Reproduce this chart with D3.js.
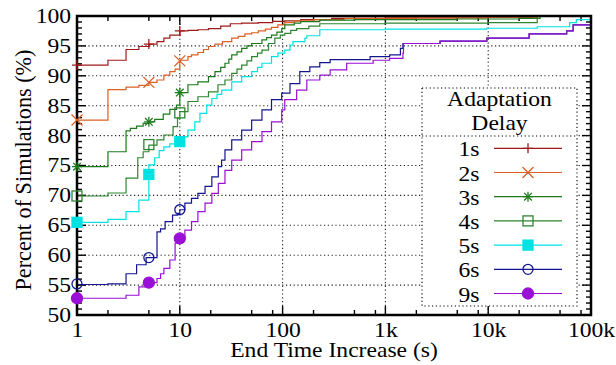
<!DOCTYPE html>
<html>
<head>
<meta charset="utf-8">
<script src="https://cdn.jsdelivr.net/npm/d3@7"></script>
<style>
body { margin: 0; background: #fff; }
text { font-family: "Liberation Serif", "Times New Roman", serif; font-size: 20px; fill: #000; }
</style>
</head>
<body>
<svg id="chart" width="616" height="365"></svg>
<script>
//******************CDF of end time increase per adaptation delay******************

//legend labels, colours and point types
var delays = ["1s", "2s", "3s", "4s", "5s", "6s", "9s"];
var colors = ["#9e1a1a", "#dc5f24", "#1b7a1b", "#2e8530", "#00e2e2", "#151590", "#9a0fd6"];
var symbols = ["plus", "cross", "star", "box", "boxf", "circ", "circf"];

//tick values
var xTicks = [1, 10, 100, 1000, 10000, 100000];
var xTickLabels = ["1", "10", "100", "1k", "10k", "100k"];
var yTicks = [50, 55, 60, 65, 70, 75, 80, 85, 90, 95, 100];

//[end time increase (s), percent of simulations]
var d1s = [[1,91.8],[2,92.6],[3,94.4],[4,94.9],[5,95.3],[6,95.7],[7,96.3],[8,96.8],[10,97.5],[12,97.6],[15,97.7],[19,97.9],
    [25,98.3],[31,98.7],[40,98.8],[58,98.9],[80,99.1],[105,99.2],[150,99.4],[300,99.6],[1000,99.7],[5000,99.8],[27000,100]];
var d2s = [[1,82.6],[2,87.7],[3,88.1],[4,88.4],[5,88.9],[6,89.3],[7,90.1],[8,90.7],[9,91.1],[10,92.6],[12,93.2],[13,93.5],
    [15,93.9],[17,94.4],[19,94.9],[22,95.3],[26,95.7],[32,96.3],[37,96.6],[43,97.0],[50,97.2],[58,97.5],[68,97.8],[78,98.1],
    [90,98.5],[105,98.9],[130,99.2],[200,99.4],[400,99.6],[2000,99.7],[10000,99.8],[30000,100]];
var d3s = [[1,74.8],[2,77.3],[3,80.8],[3.3,81.2],[3.8,81.6],[4.4,82.05],[5,82.3],[5.7,82.7],[6.9,83.6],[8,84.4],[9.3,85.1],
    [10,87.2],[12,88.5],[15,89.0],[19,89.85],[22,90.7],[25,91.4],[27.5,92.1],[30,92.8],[32,93.5],[36,94.0],[40,94.6],[45,95.0],
    [50,95.4],[63,96.0],[70,96.4],[78,96.8],[88,97.3],[98,97.9],[105,98.5],[130,98.8],[150,99.05],[230,99.3],[500,99.4],
    [5000,99.5],[20000,99.6],[32000,100]];
var d4s = [[1,69.9],[2,70.4],[3,72.9],[3.9,76.3],[4.4,77.3],[5,78.4],[6,79.3],[7,80.1],[8.6,81.5],[9.5,82.9],[10,84.0],
    [12,85.7],[15,86.5],[19,87.3],[23.5,88.5],[27.5,89.3],[32,90.4],[36,91.1],[40,91.8],[45,92.5],[50,93.2],[57,93.8],
    [63,94.3],[73,95.4],[84,96.3],[95,96.8],[105,97.1],[120,97.6],[137,97.9],[180,98.3],[230,98.7],[1000,98.8],[10000,98.9],
    [30000,100]];
var d5s = [[1,65.5],[2,66.0],[3,67.3],[4,69.2],[5,75.1],[5.7,76.3],[6.3,77.5],[7,78.1],[8,78.6],[9,79.0],[10,79.8],[12,80.9],
    [14,82.3],[15.7,83.7],[18.3,85.1],[20.5,86.2],[23,86.9],[25.6,87.6],[32,89.0],[40,89.85],[50,90.7],[57,91.4],[63,92.1],
    [78,93.2],[90,93.8],[105,94.3],[118,95.15],[126,95.7],[165,96.3],[172,96.7],[230,97.7],[1000,97.8],[9700,97.95],
    [30000,98.2],[62000,98.9],[72000,99.4],[100000,99.5]];
var d6s = [[1,55.1],[2,55.2],[3,56.9],[3.8,58.4],[4.7,59.6],[6,63.9],[6.5,64.4],[7.2,65.6],[8.5,66.7],[9.5,67.0],[10,67.6],
    [11.2,68.7],[13,69.5],[15,70.35],[17.6,71.5],[20.5,73.1],[23.7,74.8],[25.5,75.9],[27.5,77.6],[32,79.3],[40,80.9],
    [50,82.6],[63,84.3],[78,86.0],[98,87.1],[118,88.7],[147,90.7],[184,91.5],[230,92.2],[290,92.7],[710,93.2],[1100,93.5],
    [1400,94.6],[1480,95.4],[3400,95.8],[9700,96.3],[25000,97.0],[58000,97.5],[67000,98.5],[100000,98.9]];
var d9s = [[1,52.8],[3,53.3],[4,54.7],[5,55.4],[6,56.1],[6.5,56.9],[7,57.8],[8,59.2],[9,62.0],[10,62.8],[11.2,64.2],[13,65.6],
    [15,67.3],[17.6,68.7],[20.5,70.35],[23.7,72.0],[27.5,74.2],[32,75.9],[40,77.6],[50,79.0],[63,80.65],[78,82.3],[98,84.3],
    [105,86.0],[137,87.6],[172,89.3],[230,90.1],[290,91.0],[420,92.1],[760,92.6],[1100,92.9],[1480,93.8],[1500,95.4],
    [3400,95.8],[9700,96.3],[25000,97.0],[58000,97.5],[67000,98.5],[100000,98.9]];

//points where gnuplot put the symbols
var m1s = [[1,91.8],[5,95.3],[10,97.5]];
var m2s = [[1,82.6],[5,88.9],[10,92.5]];
var m3s = [[1,74.8],[5,82.3],[10,87.2]];
var m4s = [[1,69.9],[5,78.5],[10,83.8]];
var m5s = [[1,65.5],[5,73.5],[10,79.0]];
var m6s = [[1,55.2],[5,59.6],[10,67.6]];
var m9s = [[1,52.8],[5,55.4],[10,62.8]];

var lines = [d1s, d2s, d3s, d4s, d5s, d6s, d9s];
var marks = [m1s, m2s, m3s, m4s, m5s, m6s, m9s];

//picture is a bit wider than the original, stretch text the same way
var sx = 1.18;

var svg = d3.select("#chart");
var pLeft = 77, pRight = 591, pTop = 16, pBottom = 315;

var x = d3.scaleLog().domain([1, 100000]).range([pLeft, pRight]);
var y = d3.scaleLinear().domain([50, 100]).range([pBottom, pTop]);

svg.append("defs").append("clipPath")
    .attr("id", "plotclip")
    .append("rect")
    .attr("x", pLeft).attr("y", pTop - 1)
    .attr("width", pRight - pLeft).attr("height", pBottom - pTop + 1);

//dotted grid
var grid = svg.append("g").attr("stroke", "#222").attr("stroke-width", 1.1).attr("stroke-dasharray", "1.2,2.6");
grid.selectAll(".gx")
    .data(xTicks.slice(1, -1))
    .enter().append("line")
    .attr("x1", function(d) { return x(d); }).attr("x2", function(d) { return x(d); })
    .attr("y1", pTop).attr("y2", pBottom);
grid.selectAll(".gy")
    .data(yTicks.slice(1, -1))
    .enter().append("line")
    .attr("x1", pLeft).attr("x2", pRight)
    .attr("y1", function(d) { return y(d); }).attr("y2", function(d) { return y(d); });

//minor ticks: every 1% on y, 2/5/8 per decade on x
var yMinor = d3.range(50, 101).filter(function(v) { return v % 5 != 0; });
var xMinor = [];
[1, 10, 100, 1000, 10000].forEach(function(dec) { [2, 5, 8].forEach(function(m) { xMinor.push(dec * m); }); });

var ticks = svg.append("g").attr("stroke", "#000").attr("stroke-width", 1.4);
function yTick(v, len) {
    ticks.append("line").attr("x1", pLeft).attr("x2", pLeft + len).attr("y1", y(v)).attr("y2", y(v));
    ticks.append("line").attr("x1", pRight).attr("x2", pRight - len).attr("y1", y(v)).attr("y2", y(v));
}
function xTick(v, len) {
    ticks.append("line").attr("y1", pBottom).attr("y2", pBottom - len).attr("x1", x(v)).attr("x2", x(v));
    ticks.append("line").attr("y1", pTop).attr("y2", pTop + len).attr("x1", x(v)).attr("x2", x(v));
}
yTicks.forEach(function(v) { yTick(v, 9); });
yMinor.forEach(function(v) { yTick(v, 5); });
xTicks.forEach(function(v) { xTick(v, 9); });
xMinor.forEach(function(v) { xTick(v, 5); });

//tick labels through d3 axes
var yAxis = svg.append("g")
    .attr("transform", "translate(" + pLeft + ",0)")
    .call(d3.axisLeft(y).tickValues(yTicks).tickSize(0).tickPadding(5));
var xAxis = svg.append("g")
    .attr("transform", "translate(0," + pBottom + ")")
    .call(d3.axisBottom(x).tickValues(xTicks).tickSize(0).tickPadding(8)
        .tickFormat(function(d, i) { return xTickLabels[i]; }));
[yAxis, xAxis].forEach(function(a) {
    a.select(".domain").remove();
    a.selectAll("text")
        .attr("fill", "#000")
        .style("font-family", "Liberation Serif, serif")
        .style("font-size", "20px")
        .attr("transform", "scale(" + sx + ",1)");
});

//cdf lines
var line = d3.line()
    .x(function(d) { return x(d[0]); })
    .y(function(d) { return y(d[1]); })
    .curve(d3.curveStepAfter);

svg.append("g").attr("clip-path", "url(#plotclip)")
    .selectAll("path")
    .data(lines)
    .enter().append("path")
    .attr("d", line)
    .attr("fill", "none")
    .attr("stroke", function(d, i) { return colors[i]; })
    .attr("stroke-width", 1.2);

//point symbols
function drawMark(g, type, color, cx, cy) {
    var r = 5;
    if (type == "plus" || type == "star") {
        g.append("path").attr("d", "M" + (cx - r) + "," + cy + "H" + (cx + r) + "M" + cx + "," + (cy - r) + "V" + (cy + r))
            .attr("stroke", color).attr("stroke-width", 1.3);
    }
    if (type == "cross" || type == "star") {
        var k = type == "star" ? 3.8 : 5.5;
        g.append("path").attr("d", "M" + (cx - k) + "," + (cy - k) + "L" + (cx + k) + "," + (cy + k) +
                "M" + (cx - k) + "," + (cy + k) + "L" + (cx + k) + "," + (cy - k))
            .attr("stroke", color).attr("stroke-width", 1.3);
    }
    if (type == "box" || type == "boxf") {
        g.append("rect").attr("x", cx - 5).attr("y", cy - 5).attr("width", 10).attr("height", 10)
            .attr("fill", type == "boxf" ? color : "none")
            .attr("stroke", color).attr("stroke-width", 1.3);
    }
    if (type == "circ" || type == "circf") {
        g.append("circle").attr("cx", cx).attr("cy", cy).attr("r", type == "circf" ? 5.5 : 5)
            .attr("fill", type == "circf" ? color : "none")
            .attr("stroke", color).attr("stroke-width", 1.3);
    }
}

//border
svg.append("rect")
    .attr("x", pLeft).attr("y", pTop)
    .attr("width", pRight - pLeft).attr("height", pBottom - pTop)
    .attr("fill", "none").attr("stroke", "#000").attr("stroke-width", 2.5);

var markG = svg.append("g");
marks.forEach(function(pts, i) {
    pts.forEach(function(p) { drawMark(markG, symbols[i], colors[i], x(p[0]), y(p[1])); });
});

//axis titles
svg.append("text")
    .attr("transform", "translate(" + ((pLeft + pRight) / 2) + ",357) scale(" + sx + ",1)")
    .attr("text-anchor", "middle")
    .text("End Time Increase (s)");
svg.append("text")
    .attr("transform", "translate(31,170) scale(" + sx + ",1.11) rotate(-90)")
    .attr("text-anchor", "middle")
    .text("Percent of Simulations (%)");

//legend
var key = svg.append("g");
key.append("rect")
    .attr("x", 422).attr("y", 88).attr("width", 155).attr("height", 218)
    .attr("fill", "#fff").attr("stroke", "#000").attr("stroke-width", 1.1).attr("stroke-dasharray", "1.2,2.6");
key.append("line")
    .attr("x1", 422).attr("x2", 577).attr("y1", 136).attr("y2", 136)
    .attr("stroke", "#000").attr("stroke-width", 1.1).attr("stroke-dasharray", "1.2,2.6");
key.append("text")
    .attr("transform", "translate(499.5,106) scale(" + sx + ",1)")
    .attr("text-anchor", "middle").text("Adaptation");
key.append("text")
    .attr("transform", "translate(499.5,130) scale(" + sx + ",1)")
    .attr("text-anchor", "middle").text("Delay");

delays.forEach(function(name, i) {
    var ly = 148.3 + i * 24.2;
    key.append("text")
        .attr("transform", "translate(479.5," + (ly + 8) + ") scale(" + sx + ",1)")
        .attr("text-anchor", "end").text(name);
    key.append("line")
        .attr("x1", 494).attr("x2", 562).attr("y1", ly).attr("y2", ly)
        .attr("stroke", colors[i]).attr("stroke-width", 1.2);
    drawMark(key, symbols[i], colors[i], 528, ly);
});
</script>
</body>
</html>
